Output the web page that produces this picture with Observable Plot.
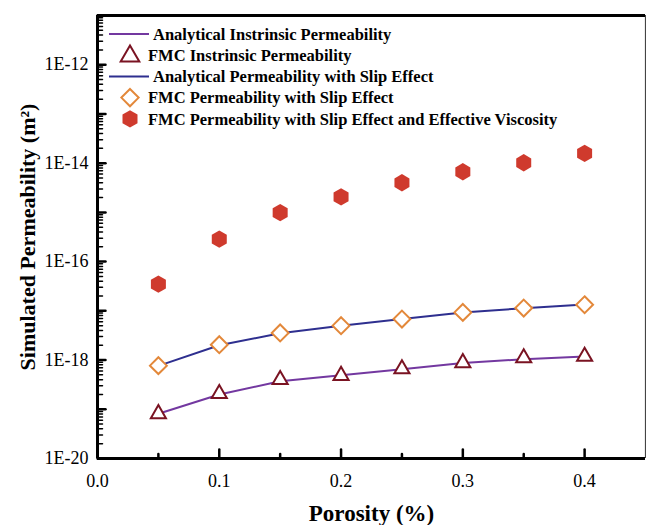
<!DOCTYPE html>
<html><head><meta charset="utf-8">
<script src="https://cdn.jsdelivr.net/npm/d3@7"></script>
<script src="https://cdn.jsdelivr.net/npm/@observablehq/plot@0.6"></script>
<style>
body{margin:0;background:#fff}
#wrap{width:646px;height:525px;overflow:hidden}
#wrap svg{display:block}
</style>
</head><body><div id="wrap"></div>
<script>
// ---- data ----
const porosity = [0.05, 0.10, 0.15, 0.20, 0.25, 0.30, 0.35, 0.40];
const analyticalIntrinsic = [8.1e-20, 2.0e-19, 3.7e-19, 4.9e-19, 6.5e-19, 8.7e-19, 1.04e-18, 1.18e-18];
const fmcIntrinsic        = [8.1e-20, 2.08e-19, 4.0e-19, 4.85e-19, 6.6e-19, 8.8e-19, 1.1e-18, 1.19e-18];
const analyticalSlip      = [7.6e-19, 2.0e-18, 3.5e-18, 5.0e-18, 6.8e-18, 9.2e-18, 1.13e-17, 1.35e-17];
const fmcSlip             = [7.7e-19, 2.05e-18, 3.55e-18, 5.0e-18, 6.8e-18, 9.3e-18, 1.14e-17, 1.33e-17];
const fmcSlipViscosity    = [3.5e-17, 2.86e-16, 9.9e-16, 2.06e-15, 4.0e-15, 6.7e-15, 1.02e-14, 1.58e-14];

const xTickLabels = [0, 0.1, 0.2, 0.3, 0.4];
const xMajorTicks = [0.1, 0.2, 0.3, 0.4];
const xMinorTicks = [0.05, 0.15, 0.25, 0.35];
const yLabelTicks = [1e-20, 1e-18, 1e-16, 1e-14, 1e-12];
const yDecades = [1e-20, 1e-19, 1e-18, 1e-17, 1e-16, 1e-15, 1e-14, 1e-13, 1e-12, 1e-11];

const legendLabels = [
  "Analytical Instrinsic Permeability",
  "FMC Instrinsic Permeability",
  "Analytical Permeability with Slip Effect",
  "FMC Permeability with Slip Effect",
  "FMC Permeability with Slip Effect and Effective Viscosity"
];
const legendKinds = ["line", "triangle", "line", "diamond", "hexagon"];

const xTitle = "Porosity (%)";
const yTitle = "Simulated Permeability (m²)";

// ---- styles ----
const colPurple = "#7338a0";
const colNavy = "#2e2f8f";
const colMaroon = "#7a1322";
const colOrange = "#e3883a";
const colRed = "#cf3a2d";
const legendColors = [colPurple, colMaroon, colNavy, colOrange, colRed];
const serif = '"Liberation Serif", "Times New Roman", serif';

const yMinor = [];
for (let i = 0; i < yDecades.length - 1; i++) {
  for (let m = 2; m <= 9; m++) yMinor.push(m * yDecades[i]);
}

const rows = arr => porosity.map((x, i) => ({x, y: arr[i]}));
const fmtE = d => "1E" + Math.round(Math.log10(d));
const tickShape = {draw(ctx, l) { ctx.moveTo(0, 0); ctx.lineTo(0, -l); }};
const xMin = 0, yMin = 1e-20;

const chart = Plot.plot({
  width: 646, height: 525,
  marginLeft: 97, marginRight: 1, marginTop: 15, marginBottom: 67,
  style: {fontFamily: serif, fontSize: "18px", color: "black", background: "white"},
  x: {domain: [0, 0.45], axis: null},
  y: {type: "log", domain: [1e-20, 1e-11], axis: null},
  marks: [
    // axis text
    Plot.axisX({ticks: xTickLabels, tickSize: 0, tickPadding: 16, tickFormat: d => d.toFixed(1), label: null, fontSize: 18}),
    Plot.axisX({ticks: [], tickSize: 0, label: xTitle, labelAnchor: "center", labelArrow: "none", labelOffset: 62, fontWeight: "bold", fontSize: 23}),
    Plot.axisY({ticks: yLabelTicks, tickSize: 0, tickPadding: 9, tickFormat: fmtE, label: null, fontSize: 18}),
    Plot.axisY({ticks: [], tickSize: 0, label: yTitle, labelAnchor: "center", labelArrow: "none", labelOffset: 78, fontWeight: "bold", fontSize: 22}),
    // inward ticks
    Plot.vector(xMajorTicks, {x: d => d, y: yMin, length: 9, rotate: 0, anchor: "start", shape: tickShape, stroke: "black", strokeWidth: 2.5}),
    Plot.vector(xMinorTicks, {x: d => d, y: yMin, length: 4.5, rotate: 0, anchor: "start", shape: tickShape, stroke: "black", strokeWidth: 2.5}),
    Plot.vector(yDecades, {x: xMin, y: d => d, length: 8, rotate: 90, anchor: "start", shape: tickShape, stroke: "black", strokeWidth: 2.5}),
    Plot.vector(yMinor, {x: xMin, y: d => d, length: 5, rotate: 90, anchor: "start", shape: tickShape, stroke: "black", strokeWidth: 1.5}),
    // frame
    Plot.ruleX([0.45], {stroke: "#444", strokeWidth: 1.2}),
    Plot.ruleX([0], {stroke: "black", strokeWidth: 3}),
    Plot.ruleY([1e-20], {stroke: "black", strokeWidth: 3}),
    Plot.ruleY([1e-11], {stroke: "black", strokeWidth: 3}),
    // series
    Plot.line(rows(analyticalIntrinsic), {x: "x", y: "y", stroke: colPurple, strokeWidth: 2}),
    Plot.line(rows(analyticalSlip), {x: "x", y: "y", stroke: colNavy, strokeWidth: 2}),
    Plot.dot(rows(fmcIntrinsic), {x: "x", y: "y", symbol: "triangle", r: 5.6, fill: "white", stroke: colMaroon, strokeWidth: 2}),
    Plot.dot(rows(fmcSlip), {x: "x", y: "y", symbol: "diamond2", r: 7.6, fill: "white", stroke: colOrange, strokeWidth: 2}),
    Plot.dot(rows(fmcSlipViscosity), {x: "x", y: "y", symbol: "hexagon", r: 7.5, fill: colRed, stroke: "none"})
  ]
});

document.getElementById("wrap").append(chart);

// ---- legend (drawn inside the chart's svg) ----
const hexagon = {
  draw(ctx, size) {
    const rx = Math.sqrt(size / Math.PI), ry = rx * 2 / Math.sqrt(3), hy = ry / 2;
    ctx.moveTo(0, ry); ctx.lineTo(rx, hy); ctx.lineTo(rx, -hy);
    ctx.lineTo(0, -ry); ctx.lineTo(-rx, -hy); ctx.lineTo(-rx, hy); ctx.closePath();
  }
};
const leg = d3.select(chart).append("g").attr("aria-label", "legend")
  .attr("text-anchor", "start");
const rowY0 = 34, rowStep = 21.2, symX = 130;
legendLabels.forEach((label, i) => {
  const y = rowY0 + i * rowStep;
  const kind = legendKinds[i], c = legendColors[i];
  const g = leg.append("g").attr("transform", `translate(0,${y})`);
  if (kind === "line") {
    g.append("line").attr("x1", 109).attr("x2", 149).attr("y1", 0).attr("y2", 0)
      .attr("stroke", c).attr("stroke-width", 2);
  } else if (kind === "triangle") {
    g.append("path").attr("transform", `translate(${symX},1)`)
      .attr("d", d3.symbol(d3.symbolTriangle, 150)())
      .attr("fill", "white").attr("stroke", c).attr("stroke-width", 2);
  } else if (kind === "diamond") {
    g.append("path").attr("transform", `translate(${symX},0)`)
      .attr("d", d3.symbol(d3.symbolDiamond2, 190)())
      .attr("fill", "white").attr("stroke", c).attr("stroke-width", 2);
  } else {
    g.append("path").attr("transform", `translate(${symX},0)`)
      .attr("d", d3.symbol(hexagon, Math.PI * 7.5 * 7.5)())
      .attr("fill", c);
  }
  g.append("text").attr("x", kind === "line" ? 153 : 148).attr("y", 0)
    .attr("dy", "0.35em").attr("text-anchor", "start")
    .style("font-family", serif).style("font-weight", "bold").style("font-size", "16.5px")
    .attr("fill", "black").text(label);
});
</script>
</body></html>
